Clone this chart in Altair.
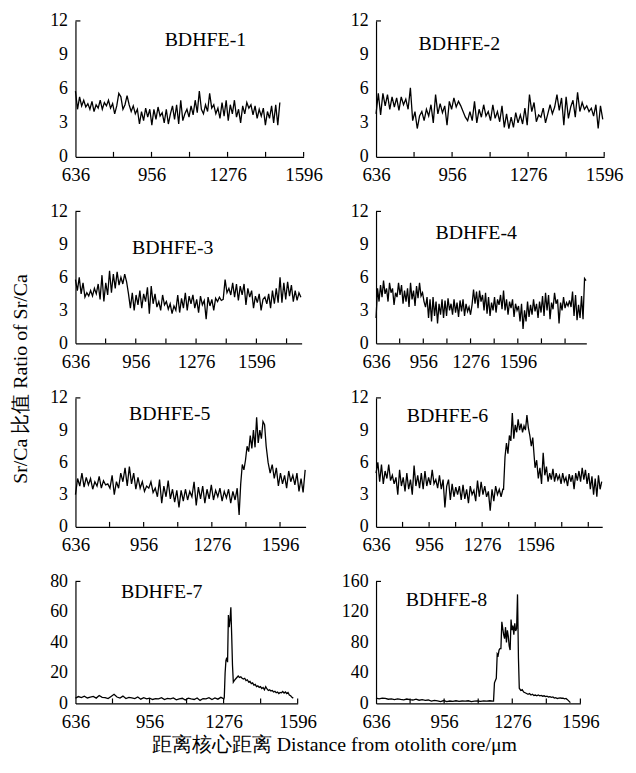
import altair as alt
import pandas as pd
import numpy as np

FONT = "Liberation Serif"

# Axis label values and tick positions (distance, µm)
X_LABELS = [636, 956, 1276, 1596]
X_TICKS = [796, 956, 1116, 1276, 1436, 1596, 1756, 1916]
Y_TICKS_A = [0, 3, 6, 9, 12]
Y_TICKS_7 = [0, 20, 40, 60, 80]
Y_TICKS_8 = [0, 40, 80, 120, 160]

titles = ["BDHFE-1", "BDHFE-2", "BDHFE-3", "BDHFE-4",
          "BDHFE-5", "BDHFE-6", "BDHFE-7", "BDHFE-8"]
x_max = [1596, 1596, 1836, 2060, 1716, 2000, 1596, 1596]

# ---- Sr/Ca values (segment start, segment end, values) ----
p1_vals = [5.8, 4.2, 5.3, 4.5, 5.0, 4.4, 4.7, 4.2, 4.9, 4.0, 4.6, 4.3, 5.0, 4.2, 4.8, 4.5, 5.0, 4.3, 4.7, 3.8,
           4.5, 5.6, 5.3, 4.2, 4.6, 5.4, 4.6, 4.0, 4.5, 3.8, 4.2, 2.9, 4.0, 3.2, 4.3, 3.5, 4.2, 2.8, 4.2, 3.3,
           4.4, 3.6, 3.9, 3.0, 4.2, 2.9, 3.8, 4.5, 3.3, 4.6, 2.9, 5.0, 3.2, 3.8, 4.2, 3.5, 4.5, 3.7, 5.0, 3.9,
           5.8, 4.2, 3.8, 4.6, 4.0, 5.6, 4.3, 4.6, 3.8, 4.3, 3.4, 4.8, 3.6, 5.0, 3.2, 4.6, 3.8, 5.0, 3.5, 4.2,
           3.0, 4.5, 3.8, 4.8, 4.3, 4.6, 3.7, 4.5, 3.4, 4.2, 3.6, 4.3, 2.8, 4.0, 3.4, 4.5, 3.0, 4.6, 2.8, 4.8]
p1_segments = [(636, 1496, p1_vals)]

p2_vals = [3.8, 5.6, 3.7, 5.6, 4.5, 5.5, 4.2, 5.3, 4.4, 5.2, 4.1, 5.3, 4.6, 5.1, 4.2, 6.1, 3.2, 4.0, 2.5, 3.6,
           4.0, 3.2, 4.2, 3.6, 4.6, 3.0, 5.5, 3.8, 4.7, 3.9, 4.5, 2.8, 4.9, 4.2, 5.2, 4.4, 4.9, 4.5, 4.0, 3.5,
           3.2, 4.0, 3.2, 4.9, 3.0, 4.2, 3.5, 4.6, 3.6, 4.0, 3.2, 4.6, 3.4, 4.0, 3.1, 4.5, 2.6, 3.8, 2.5, 3.5,
           2.6, 3.9, 3.0, 3.7, 2.9, 4.3, 2.8, 5.5, 4.0, 4.8, 3.1, 3.7, 3.5, 4.3, 3.0, 3.8, 4.6, 3.8, 4.4, 5.5,
           4.1, 5.2, 2.8, 5.3, 3.4, 4.4, 5.0, 3.5, 5.7, 4.0, 4.8, 4.2, 4.5, 4.0, 4.3, 3.6, 4.6, 2.5, 4.5, 3.3]
p2_segments = [(636, 1590, p2_vals)]

p3_vals = [5.8, 4.8, 6.0, 4.5, 5.5, 4.2, 4.6, 4.3, 4.8, 4.3, 5.0, 4.5, 5.4, 4.0, 6.2, 3.8, 5.5, 4.4, 6.6, 4.6,
           6.3, 5.0, 6.5, 5.3, 6.0, 5.4, 6.3, 5.6, 4.5, 3.2, 4.6, 3.0, 4.4, 3.5, 4.8, 3.2, 4.5, 3.8, 5.1, 2.7,
           5.2, 3.6, 4.5, 3.3, 3.8, 3.0, 4.4, 3.5, 3.8, 3.1, 3.6, 2.7, 3.4, 3.0, 4.4, 2.8, 4.1, 3.2, 4.6, 3.0,
           4.3, 3.6, 4.4, 3.2, 4.0, 2.8, 4.3, 3.5, 3.9, 2.2, 4.2, 3.4, 4.0, 3.0, 4.1, 3.8, 4.2, 3.9, 4.0, 5.8,
           4.6, 5.0, 4.4, 5.5, 4.2, 5.4, 3.9, 5.2, 4.4, 5.4, 3.5, 5.0, 4.2, 4.8, 3.2, 4.3, 3.7, 4.5, 3.0, 4.0,
           4.2, 3.6, 4.5, 3.2, 4.8, 3.6, 5.0, 3.7, 6.0, 3.7, 5.5, 4.0, 5.6, 4.3, 5.3, 3.8, 4.8, 3.9, 4.6, 4.2]
p3_segments = [(636, 1832, p3_vals)]

p4_vals = [2.3, 5.0, 3.8, 5.3, 4.2, 5.7, 4.5, 5.0, 3.8, 5.5, 4.6, 5.0, 3.5, 4.6, 4.2, 5.5, 4.4, 5.3, 3.6, 4.8,
           3.8, 5.0, 3.3, 5.5, 4.0, 4.8, 3.4, 5.2, 4.1, 5.5, 4.3, 4.6, 3.8, 3.3, 4.2, 2.3, 4.0, 2.0, 4.2, 2.5,
           3.8, 1.8, 3.6, 2.6, 4.0, 2.3, 3.9, 2.5, 4.1, 3.0, 3.6, 2.6, 4.0, 2.8, 3.7, 2.4, 3.9, 2.9, 4.0, 2.5,
           3.6, 2.9, 3.3, 2.6, 3.5, 4.9, 3.6, 4.7, 3.2, 4.8, 3.8, 4.4, 3.0, 4.6, 2.7, 4.2, 2.5, 3.7, 3.0, 4.2,
           2.8, 4.0, 3.5, 4.4, 3.1, 4.8, 3.0, 4.0, 2.6, 3.8, 3.2, 4.0, 2.4, 3.6, 3.0, 3.4, 2.0, 3.6, 1.3, 3.0,
           2.0, 3.8, 2.4, 3.5, 2.6, 4.0, 2.9, 3.6, 2.3, 3.8, 2.8, 4.3, 2.5, 4.6, 3.0, 4.4, 2.2, 3.7, 3.1, 4.6,
           3.6, 4.0, 1.8, 3.7, 3.0, 4.2, 3.2, 3.7, 3.4, 3.9, 3.3, 4.7, 2.5, 4.4, 2.1, 3.5, 2.3, 4.3, 2.2, 5.9,
           5.7]
p4_segments = [(636, 2058, p4_vals)]

p5_base = [3.0, 4.5, 3.8, 5.0, 3.7, 4.6, 3.9, 4.5, 3.5, 4.2, 3.8, 4.7, 3.6, 4.3, 3.9, 4.0, 3.6, 4.8, 3.0, 4.2,
           3.6, 5.0, 4.2, 5.5, 3.8, 5.6, 4.0, 5.0, 3.5, 4.6, 3.6, 4.2, 3.3, 3.8, 3.6, 4.2, 3.2, 3.6, 2.8, 4.4,
           2.2, 3.8, 2.8, 4.3, 2.6, 3.5, 2.3, 3.4, 1.8, 3.4, 2.4, 3.5, 2.5, 3.3, 2.8, 4.2, 2.0, 3.7, 2.6, 3.8,
           2.2, 3.5, 2.6, 3.9, 2.5, 3.4, 2.8, 3.6, 2.4, 3.3, 2.7, 3.5, 2.2, 3.3, 2.5, 3.6]
p5_peak = [1.1, 4.0, 5.8, 5.3, 6.2, 7.5, 7.0, 8.5, 7.3, 9.0, 7.4, 10.2, 7.8, 9.0, 8.2, 9.8, 9.5, 7.5]
p5_tail = [6.0, 5.0, 5.8, 4.5, 5.5, 3.8, 5.0, 4.0, 4.8, 3.6, 5.2, 4.2, 4.8, 3.9, 5.0, 3.3, 4.5, 3.2, 5.3]
p5_segments = [(636, 1395, p5_base), (1404, 1531, p5_peak), (1540, 1714, p5_tail)]

p6_base = [5.0, 6.0, 4.2, 5.8, 4.0, 5.2, 4.5, 5.8, 4.3, 4.8, 4.0, 4.6, 3.0, 5.3, 3.8, 4.6, 3.3, 5.0, 3.5, 4.4,
           3.0, 5.7, 3.8, 4.8, 3.6, 5.0, 3.5, 5.2, 3.8, 4.6, 3.9, 5.3, 4.0, 4.4, 3.6, 4.8, 3.5, 4.4, 1.8, 3.8,
           4.4, 2.5, 4.0, 2.8, 3.7, 3.0, 3.8, 2.5, 3.9, 2.6, 3.5, 2.2, 3.8, 3.0, 3.4, 2.4, 4.3, 2.8, 4.2, 3.0,
           3.8, 2.8, 3.3, 1.5, 3.5, 2.4, 3.8, 3.0, 3.5, 2.8, 3.5]
p6_peak = [3.5, 6.5, 7.8, 6.8, 8.5, 8.0, 10.6, 8.2, 9.5, 8.8, 10.0, 9.0, 9.6, 8.8, 9.4, 9.0, 10.4, 9.2, 8.5, 7.5,
           8.3, 6.5]
p6_tail = [5.5, 6.2, 4.5, 5.5, 4.0, 6.9, 4.8, 5.6, 4.2, 5.0, 4.4, 5.4, 4.2, 5.0, 4.4, 4.8, 4.0, 5.0, 4.2, 4.6,
           3.8, 4.9, 4.2, 4.8, 3.5, 5.0, 4.3, 5.2, 4.2, 5.5, 4.4, 5.3, 4.0, 5.0, 3.5, 4.7, 3.0, 4.5, 2.8, 4.8,
           3.5, 4.2]
p6_segments = [(636, 1401, p6_base), (1405, 1590, p6_peak), (1595, 1997, p6_tail)]

p7_base = [3.5, 4.5, 3.8, 4.8, 3.6, 4.2, 4.6, 3.5, 5.2, 4.0, 3.8, 3.2, 4.6, 6.0, 4.2, 3.5, 4.8, 3.2, 4.0, 3.6,
           3.2, 4.2, 2.8, 3.8, 3.0, 3.5, 2.6, 3.2, 3.0, 3.8, 2.5, 3.3, 3.0, 3.6, 2.4, 3.0, 3.4, 2.2, 3.5, 3.0,
           2.6, 3.6, 2.0, 3.2, 3.0, 3.8, 2.6, 3.6, 2.8, 4.0, 3.0]
p7_peak = [4, 20, 28, 30, 27, 58, 50, 55, 63, 45, 25, 14]
p7_tail = [15, 16, 17, 18, 17, 17.5, 16.5, 16, 16.5, 15, 15.5, 14, 14.5, 13, 13.5, 12, 12.5, 11, 11.5, 10.5,
           11, 9.8, 10.5, 9, 11, 9.5, 8.5, 9, 8.2, 8.5, 7.5, 8, 7, 7.5, 6.5, 7.2, 7, 7.8, 6.8, 7.5,
           6.5, 7.2, 5.5, 5, 4, 3.5]
p7_segments = [(636, 1277, p7_base), (1279, 1318, p7_peak), (1322, 1577, p7_tail)]

p8_base = [7, 6, 7, 6.5, 5.5, 6, 5, 6, 5.2, 4.8, 5.8, 5, 4.5, 5.5, 4.2, 5.0, 4.0, 4.5, 3.0, 4.0,
           3.5, 2.5, 3.8, 2.5, 3.2, 2.8, 3.5, 2.8, 3.2, 3.0, 3.5, 2.5, 3.0, 3.2, 2.8, 3.3, 3.0, 3.5, 3.0]
p8_peak = [3, 27, 30, 33, 65, 63, 70, 72, 72, 107, 98, 90, 85, 100, 80, 96, 88, 75, 70, 110,
           96, 102, 90, 105, 95, 98, 143, 60]
p8_tail = [20, 17, 18, 15, 14, 13, 12, 13, 11, 12, 10.5, 11, 10, 11, 10, 10.5, 9.5, 10, 9, 9.5,
           8.5, 9, 8, 8.5, 7, 7.5, 6.5, 7, 7.2, 6.8, 7, 6, 6.5, 5, 3, 1]
p8_segments = [(636, 1185, p8_base), (1188, 1305, p8_peak), (1309, 1549, p8_tail)]

all_segments = [p1_segments, p2_segments, p3_segments, p4_segments,
                p5_segments, p6_segments, p7_segments, p8_segments]
y_ticks = [Y_TICKS_A] * 6 + [Y_TICKS_7, Y_TICKS_8]

# ---- layout (pixels) ----
widths = [230, 230, 228, 212, 232, 228, 224, 206]
heights = [137, 137, 133, 133, 130, 130, 123, 123]
title_pos = [(131, 19), (84, 23), (98, 37), (101, 22), (95, 16), (72, 18), (87, 11), (71, 19)]


def series(segments):
    xs, ys = [], []
    for a, b, vals in segments:
        xs.extend(np.linspace(a, b, len(vals)).tolist())
        ys.extend(vals)
    return pd.DataFrame({"x": xs, "y": ys})


def panel(i):
    df = series(all_segments[i])
    w, h = widths[i], heights[i]
    yt = y_ticks[i]
    xenc = alt.X("x:Q", scale=alt.Scale(domain=[636, x_max[i]], nice=False, zero=False),
                 axis=alt.Axis(values=X_LABELS, title=None, labelPadding=9, format="d",
                               labelFont=FONT, labelFontSize=19))
    yenc = alt.Y("y:Q", scale=alt.Scale(domain=[0, yt[-1]], nice=False),
                 axis=alt.Axis(values=yt, title=None, labelPadding=8, format="d",
                               labelFont=FONT, labelFontSize=18))
    line = alt.Chart(df).mark_line(color="black", strokeWidth=1.3).encode(x=xenc, y=yenc)
    tick_df = pd.DataFrame({"x": [t for t in X_TICKS if t <= x_max[i]]})
    ticks = alt.Chart(tick_df).mark_rule(color="black", strokeWidth=1.2).encode(
        x=xenc, y=alt.value(h), y2=alt.value(h - 5))
    top_tick = alt.Chart(pd.DataFrame({"k": [0]})).mark_rule(color="black", strokeWidth=1.2).encode(
        x=alt.value(0), x2=alt.value(5), y=alt.value(0))
    tx, ty = title_pos[i]
    label = alt.Chart(pd.DataFrame({"t": [titles[i]]})).mark_text(
        font=FONT, fontSize=20, color="black").encode(text="t:N", x=alt.value(tx), y=alt.value(ty))
    layers = [line, ticks, top_tick, label]
    if i == 4:
        layers.append(alt.Chart(pd.DataFrame({"t": ["Sr/Ca 比值 Ratio of Sr/Ca"]})).mark_text(
            font=FONT, fontSize=20, color="black", angle=270).encode(
            text="t:N", x=alt.value(-55), y=alt.value(-19)))
    if i == 6:
        layers.append(alt.Chart(pd.DataFrame({"t": ["距离核心距离 Distance from otolith core/μm"]})).mark_text(
            font=FONT, fontSize=20, color="black").encode(
            text="t:N", x=alt.value(261), y=alt.value(165)))
    return alt.layer(*layers).properties(width=w, height=h)


chart = alt.concat(*[panel(i) for i in range(8)], columns=2,
                   spacing={"row": 55, "column": 71}, bounds="flush").properties(
    padding={"left": 2, "top": 1, "right": 5, "bottom": 5},
    background="white",
).configure_view(stroke=None).configure_axis(
    grid=False, ticks=False, labelFont=FONT, labelColor="black",
    domainColor="black", domainWidth=1.2, labelFlush=False, labelOverlap=False,
).configure_text(font=FONT)

chart.save("out.html", embed_options={"renderer": "svg", "actions": False})
